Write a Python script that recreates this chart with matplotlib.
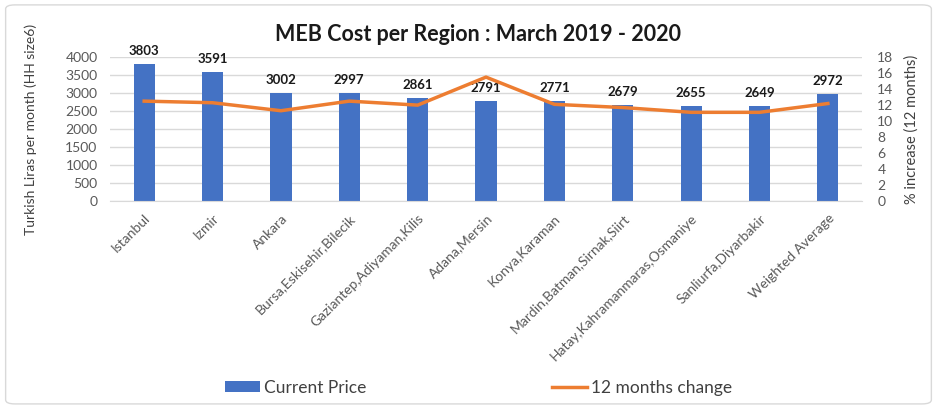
import matplotlib
matplotlib.use("Agg")
import matplotlib.pyplot as plt
from matplotlib.patches import FancyBboxPatch
import numpy as np

plt.rcParams['font.family'] = ['Lato', 'DejaVu Sans']

regions = ["Istanbul", "Izmir", "Ankara", "Bursa,Eskisehir,Bilecik",
           "Gaziantep,Adiyaman,Kilis", "Adana,Mersin", "Konya,Karaman",
           "Mardin,Batman,Sirnak,Siirt", "Hatay,Kahramanmaras,Osmaniye",
           "Sanliurfa,Diyarbakir", "Weighted Average"]
current_price = [3803, 3591, 3002, 2997, 2861, 2791, 2771, 2679, 2655, 2649, 2972]
change_12m = [12.5, 12.3, 11.3, 12.5, 12.0, 15.5, 12.1, 11.7, 11.1, 11.1, 12.2]
left_ticks = [0, 500, 1000, 1500, 2000, 2500, 3000, 3500, 4000]
right_ticks = [0, 2, 4, 6, 8, 10, 12, 14, 16, 18]

bar_color = "#4472C4"
line_color = "#ED7D31"
text_color = "#404040"
grid_color = "#D9D9D9"

fig = plt.figure(figsize=(9.37, 4.08), dpi=100)
ax = fig.add_axes([0.1174, 0.507, 0.8026, 0.353])
x = np.arange(len(regions))

bars = ax.bar(x, current_price, width=0.31, color=bar_color, zorder=2, label="Current Price")
for xi, v in zip(x, current_price):
    ax.annotate(f"{v}", (xi, v), xytext=(0, 5), textcoords="offset points",
                ha="center", va="bottom", fontsize=9.5, fontweight="bold", color="#1a1a1a")

ax.set_xlim(-0.5, len(regions) - 0.5)
ax.set_ylim(0, 4000)
ax.set_yticks(left_ticks)
ax.yaxis.grid(True, color=grid_color, linewidth=1, zorder=0)
ax.set_axisbelow(True)
for s in ["top", "right", "left"]:
    ax.spines[s].set_visible(False)
ax.spines["bottom"].set_color(grid_color)
ax.tick_params(axis="both", length=0, colors="#595959", labelsize=10)
ax.tick_params(axis="y", pad=9)
ax.set_xticks(x)
ax.set_xticklabels(regions, rotation=45, ha="right", rotation_mode="anchor")
ax.tick_params(axis="x", pad=8)
ax.set_ylabel("Turkish Liras per month (HH size6)", fontsize=10, color=text_color, labelpad=20)

ax2 = ax.twinx()
ax2.plot(x, change_12m, color=line_color, linewidth=2.5, zorder=3, label="12 months change")
ax2.set_ylim(0, 18)
ax2.set_yticks(right_ticks)
for s in ["top", "right", "left", "bottom"]:
    ax2.spines[s].set_visible(False)
ax2.tick_params(axis="y", length=0, colors="#595959", labelsize=10, pad=11)
ax2.set_ylabel("% increase (12 months)", fontsize=10.5, color=text_color, labelpad=8)

fig.text(0.51, 0.915, "MEB Cost per Region : March 2019 - 2020", ha="center", va="center",
         fontsize=15.5, fontweight="bold", color="#1a1a1a")

handles = [bars, ax2.get_lines()[0]]
leg = fig.legend(handles, ["Current Price", "12 months change"], loc="center",
                 bbox_to_anchor=(0.511, 0.049), ncol=2, frameon=False, fontsize=12.5,
                 columnspacing=10.7, handlelength=2.0, handleheight=0.6, handletextpad=0.25)
for t in leg.get_texts():
    t.set_color(text_color)

border = FancyBboxPatch((0.006, 0.01), 0.988, 0.978, boxstyle="round,pad=0,rounding_size=0.01",
                        transform=fig.transFigure, facecolor="none", edgecolor="#D9D9D9",
                        linewidth=1)
fig.patches.append(border)

fig.savefig("out.png", dpi=100)
